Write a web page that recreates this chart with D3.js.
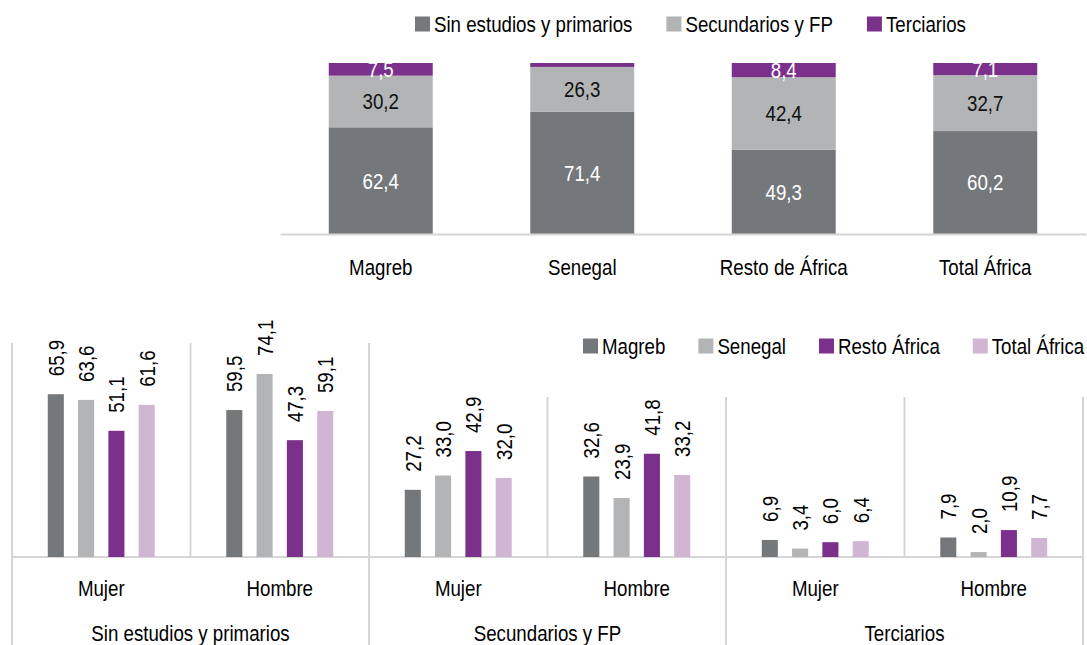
<!DOCTYPE html>
<html>
<head>
<meta charset="utf-8">
<script src="https://cdn.jsdelivr.net/npm/d3@7"></script>
<style>
  body { margin: 0; background: #fff; }
  text { font-family: "Liberation Sans Narrow", "Arial Narrow", "Liberation Sans", Arial, sans-serif; }
</style>
</head>
<body>
<script>
// top chart: share of each education level by origin
var origins = ["Magreb", "Senegal", "Resto de África", "Total África"];
var levels = ["Sin estudios y primarios", "Secundarios y FP", "Terciarios"];
var sinEstudios = [62.4, 71.4, 49.3, 60.2];
var secundarios = [30.2, 26.3, 42.4, 32.7];
var terciarios = [7.5, 2.3, 8.4, 7.1];

// bottom chart: education level by sex and origin
var sexes = ["Mujer", "Hombre"];
var series = ["Magreb", "Senegal", "Resto África", "Total África"];
var magreb = [65.9, 59.5, 27.2, 32.6, 6.9, 7.9];
var senegal = [63.6, 74.1, 33.0, 23.9, 3.4, 2.0];
var restoAfrica = [51.1, 47.3, 42.9, 41.8, 6.0, 10.9];
var totalAfrica = [61.6, 59.1, 32.0, 33.2, 6.4, 7.7];

var levelColors = ["#75787b", "#b2b4b5", "#7b318b"];
var levelLabelColors = ["#fff", "#111", "#fff"];
var seriesColors = ["#75787b", "#b2b4b5", "#7b318b", "#d1b6d4"];
var lineColor = "#d6d6d6";
var fontSize = 22;
var squeeze = 0.85; // no condensed font installed, so narrow the glyphs

var width = 1087, height = 645;
var svg = d3.select("body").append("svg")
    .attr("width", width)
    .attr("height", height);

function fmt(v){ return d3.format(".1f")(v).replace(".", ","); }

// text placed at (x,y) and squeezed horizontally
function addText(g, x, y, str, anchor, fill){
  return g.append("text")
    .attr("transform", "translate(" + x + "," + y + ") scale(" + squeeze + ",1)")
    .attr("dy", "0.36em")
    .attr("text-anchor", anchor)
    .attr("font-size", fontSize)
    .attr("fill", fill || "#000")
    .text(str);
}

// ---------- top chart ----------
var rows = origins.map(function(o, i){
  var r = {origin: o};
  r[levels[0]] = sinEstudios[i];
  r[levels[1]] = secundarios[i];
  r[levels[2]] = terciarios[i];
  return r;
});
var stacked = d3.stack().keys(levels)(rows);

var xTop = d3.scaleBand().domain(origins).range([280, 1086])
    .paddingInner(0.484).paddingOuter(0.242);
var yTop = d3.scaleLinear().domain([0, 100]).range([234, 63]);

svg.append("clipPath").attr("id", "topClip")
  .append("rect")
    .attr("x", 280).attr("y", yTop(100))
    .attr("width", 806).attr("height", yTop(0) - yTop(100));

var topChart = svg.append("g");
var layers = topChart.selectAll("g.layer")
  .data(stacked)
  .enter().append("g")
    .attr("class", "layer")
    .attr("fill", function(d, i){ return levelColors[i]; });

layers.selectAll("rect")
  .data(function(d){ return d; })
  .enter().append("rect")
    .attr("x", function(d){ return xTop(d.data.origin); })
    .attr("width", xTop.bandwidth())
    .attr("y", function(d){ return yTop(Math.min(d[1], 100)); })
    .attr("height", function(d){ return yTop(d[0]) - yTop(Math.min(d[1], 100)); });

var topLabels = topChart.append("g").attr("clip-path", "url(#topClip)");
stacked.forEach(function(layer, li){
  layer.forEach(function(d){
    if (d[1] - d[0] < 3) return; // Senegal's thin tertiary strip has no label
    addText(topLabels,
      xTop(d.data.origin) + xTop.bandwidth() / 2,
      yTop((d[0] + Math.min(d[1], 100)) / 2),
      fmt(d[1] - d[0]), "middle", levelLabelColors[li]);
  });
});

var topAxis = svg.append("g")
    .attr("transform", "translate(0," + yTop(0) + ")")
    .call(d3.axisBottom(xTop).tickSize(0).tickPadding(25));
topAxis.select(".domain").attr("stroke", lineColor).attr("stroke-width", 2);
topAxis.selectAll("text")
    .attr("font-size", fontSize).attr("fill", "#000")
    .attr("font-family", null)
    .attr("transform", "scale(" + squeeze + ",1)");

// legend helper
function legend(g, names, colors, x0, gap){
  var x = x0;
  names.forEach(function(n, i){
    g.append("rect").attr("x", x).attr("y", -7.5)
      .attr("width", 15).attr("height", 15).attr("fill", colors[i]);
    var t = addText(g, x + 19, 0, n, "start");
    x = x + 19 + t.node().getComputedTextLength() * squeeze + gap;
  });
}
legend(svg.append("g").attr("transform", "translate(0,24)"), levels, levelColors, 415, 34);

// ---------- bottom chart ----------
var cats = d3.range(6);
var seriesValues = [magreb, senegal, restoAfrica, totalAfrica];

var x0 = d3.scaleBand().domain(cats).range([12, 1083]);
var x1 = d3.scaleBand().domain(series).range([0, x0.bandwidth()])
    .paddingInner(0.47).paddingOuter(1.18);
var y = d3.scaleLinear().domain([0, 80]).range([557, 359.4]);

var bottom = svg.append("g");
var plotTop = 343;

// category separators
var seps = cats.concat([6]);
bottom.selectAll("line.sep")
  .data(seps)
  .enter().append("line")
    .attr("class", "sep")
    .attr("x1", function(d){ return d < 6 ? x0(d) : x0.range()[1]; })
    .attr("x2", function(d){ return d < 6 ? x0(d) : x0.range()[1]; })
    .attr("y1", plotTop)
    .attr("y2", function(d){ return d % 2 === 0 ? height : y(0); })
    .attr("stroke", lineColor).attr("stroke-width", 2);

bottom.append("line")
  .attr("x1", 12).attr("x2", 1083)
  .attr("y1", y(0)).attr("y2", y(0))
  .attr("stroke", lineColor).attr("stroke-width", 2);

var sGroups = bottom.selectAll("g.series")
  .data(series)
  .enter().append("g")
    .attr("class", "series")
    .attr("fill", function(d, i){ return seriesColors[i]; });

sGroups.selectAll("rect")
  .data(function(s, si){ return seriesValues[si].map(function(v, ci){ return {s: s, c: ci, v: v}; }); })
  .enter().append("rect")
    .attr("x", function(d){ return x0(d.c) + x1(d.s); })
    .attr("width", x1.bandwidth())
    .attr("y", function(d){ return y(d.v); })
    .attr("height", function(d){ return y(0) - y(d.v); });

sGroups.selectAll("text")
  .data(function(s, si){ return seriesValues[si].map(function(v, ci){ return {s: s, c: ci, v: v}; }); })
  .enter().append("text")
    .attr("transform", function(d){
      var cx = x0(d.c) + x1(d.s) + x1.bandwidth() / 2;
      return "translate(" + cx + "," + (y(d.v) - 18) + ") rotate(-90) scale(" + squeeze + ",1)";
    })
    .attr("dy", "0.36em")
    .attr("font-size", fontSize)
    .attr("fill", "#000")
    .text(function(d){ return fmt(d.v); });

// sub-category and group labels
cats.forEach(function(c){
  addText(bottom, x0(c) + x0.bandwidth() / 2, 588, sexes[c % 2], "middle");
});
levels.forEach(function(l, i){
  addText(bottom, x0(i * 2) + x0.bandwidth(), 633, l, "middle");
});

// bottom legend, its white box hides the upper part of the gridlines
svg.append("rect").attr("x", 540).attr("y", 320)
  .attr("width", 547).attr("height", 77).attr("fill", "#fff");
legend(svg.append("g").attr("transform", "translate(0,346)"), series, seriesColors, 583, 33);
</script>
</body>
</html>
